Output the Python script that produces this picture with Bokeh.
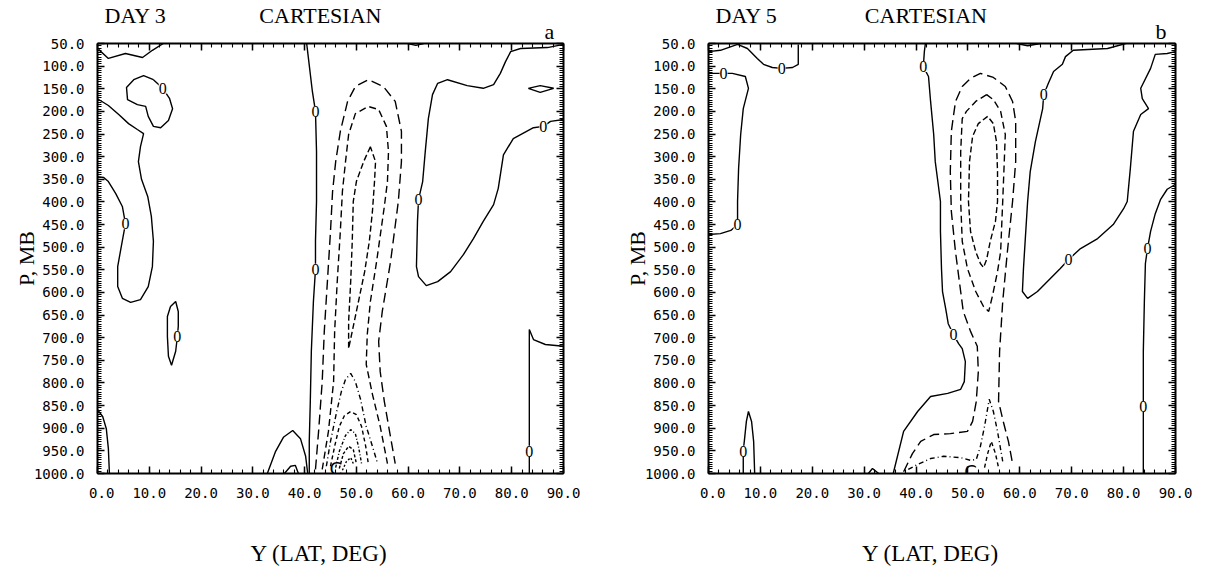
import math
from bokeh.plotting import figure
from bokeh.models import (Range1d, FixedTicker, LinearAxis, PrintfTickFormatter,
                          Label, LabelSet, ColumnDataSource, Title)
from bokeh.layouts import row
from bokeh.embed import file_html
from bokeh.resources import INLINE

# ---- axes ---------------------------------------------------------------
LAT_TICKS = [0, 10, 20, 30, 40, 50, 60, 70, 80, 90]
LAT_MINOR = list(range(0, 91, 2))
P_TICKS = [50, 100, 150, 200, 250, 300, 350, 400, 450, 500,
           550, 600, 650, 700, 750, 800, 850, 900, 950, 1000]
P_MINOR = list(range(50, 1001, 5))

# ---- DAY 3 : zero contours (lat, pressure) --------------------------------
D3_Z1_LAT = [0.2, 2.1, 5.4, 8.7, 10.6, 12.7]
D3_Z1_P = [63, 83, 72, 81, 65, 50]
D3_Z2_LAT = [10.8, 8.9, 7.0, 5.6, 5.8, 7.7, 9.3, 9.8, 10.8, 12.2, 13.7, 14.5, 13.9, 12.6, 10.8]
D3_Z2_P = [130, 121, 130, 147, 174, 185, 189, 211, 233, 236, 220, 194, 171, 149, 130]
D3_Z3_LAT = [0, 2.1, 4.1, 6.0, 7.7, 8.9, 8.3, 7.9, 8.5, 9.7, 10.4, 10.8, 10.6, 9.8, 8.3,
             6.4, 4.8, 3.9, 3.9, 4.6, 5.4, 4.8, 3.5, 2.1, 1.2, 0]
D3_Z3_P = [172, 187, 207, 227, 240, 249, 278, 311, 350, 388, 432, 487, 543, 587, 616,
           622, 613, 587, 543, 498, 448, 410, 381, 355, 346, 344]
D3_Z4_LAT = [14.1, 15.1, 15.6, 15.6, 15.4, 15.1, 14.3, 13.7, 13.5, 13.5, 14.1]
D3_Z4_P = [631, 620, 642, 675, 700, 730, 761, 741, 697, 653, 631]
D3_Z5_LAT = [0, 1.0, 1.7, 2.1, 2.3]
D3_Z5_P = [859, 874, 901, 945, 1000]
D3_Z6_LAT = [32.8, 34.4, 35.9, 37.7, 39.2, 40.2, 40.6]
D3_Z6_P = [1000, 951, 920, 905, 923, 962, 1000]
D3_Z7_LAT = [36.1, 37.3, 38.2, 38.8]
D3_Z7_P = [1000, 984, 982, 1000]
D3_Z8_LAT = [40.4, 40.7, 41.5, 42.1, 42.3, 42.3, 42.1, 42.1, 41.7, 41.3, 41.1, 40.9, 40.9]
D3_Z8_P = [50, 79, 156, 200, 289, 399, 487, 549, 620, 730, 841, 929, 1000]
D3_Z9_LAT = [90, 86.9, 81.7, 79.8, 78.8, 77.8, 76.5, 74.5, 71.4, 67.6, 65.7, 64.7, 63.9,
             63.3, 62.8, 62.0, 61.8, 61.6, 62.0, 63.5, 65.7, 68.2, 70.7, 72.6, 74.5,
             76.5, 77.4, 78.4, 80.3, 84.2, 86.1, 87.5, 90]
D3_Z9_P = [52, 59, 61, 68, 90, 116, 141, 149, 143, 130, 138, 163, 216, 289, 355, 395,
           443, 543, 565, 585, 576, 554, 516, 481, 443, 406, 370, 296, 260, 236, 233, 222, 218]
D3_Z10_LAT = [83.2, 85.5, 88.1, 85.5, 83.2]
D3_Z10_P = [149, 143, 149, 158, 149]
D3_Z11_LAT = [90, 86.5, 84.2, 83.4, 83.4, 83.4, 83.4]
D3_Z11_P = [719, 715, 704, 682, 797, 929, 1000]
D3_Z12_LAT = [59.9, 61.5, 63.0]
D3_Z12_P = [50, 54, 50]

# ---- DAY 3 : negative contours ------------------------------------------
D3_N1_LAT = [42.1, 42.7, 43.4, 43.8, 44.4, 45.0, 45.4, 46.0, 46.9, 48.3, 49.8, 52.3, 55.2,
             57.5, 58.7, 58.7, 58.1, 56.6, 55.0, 54.3, 54.6, 55.4, 56.4, 57.5]
D3_N1_P = [991, 907, 797, 686, 576, 465, 377, 311, 244, 178, 145, 130, 145,
           178, 244, 311, 399, 532, 642, 708, 775, 841, 907, 978]
D3_N2_LAT = [43.4, 44.6, 45.6, 45.8, 46.3, 46.9, 47.3, 47.9, 48.5, 49.8, 52.3, 54.3, 55.8,
             56.2, 56.0, 55.4, 53.9, 52.7, 52.1, 51.9, 53.1, 54.6, 56.0]
D3_N2_P = [991, 907, 797, 686, 576, 465, 377, 311, 251, 205, 189, 196, 233,
           289, 355, 410, 532, 620, 693, 759, 825, 896, 978]
D3_N3_LAT = [52.7, 51.4, 50.0, 49.4, 49.2, 48.9, 48.5, 48.5, 49.2, 50.4, 51.6, 52.5, 53.1,
             53.5, 53.7, 52.7]
D3_N3_P = [278, 311, 355, 399, 487, 576, 664, 724, 686, 620, 554, 487, 421, 355, 311, 278]
D3_N4_LAT = [44.2, 45.0, 46.2, 47.1, 47.9, 48.9, 49.8, 50.8, 51.9, 53.1, 54.1]
D3_N4_P = [984, 929, 863, 819, 792, 779, 797, 836, 896, 940, 978]
D3_N5_LAT = [45.0, 45.8, 46.7, 47.7, 48.9, 50.0, 51.0, 51.8, 52.3]
D3_N5_P = [984, 940, 896, 872, 863, 870, 896, 940, 978]
D3_N6_LAT = [46.0, 46.7, 47.9, 48.9, 49.8, 50.4, 51.0]
D3_N6_P = [987, 951, 916, 903, 912, 940, 978]
D3_N7_LAT = [46.7, 47.5, 48.5, 49.4, 50.0]
D3_N7_P = [989, 956, 940, 947, 978]
D3_N8_LAT = [47.3, 48.1, 48.9, 49.4]
D3_N8_P = [993, 973, 965, 978]

D3_ZERO_LABEL_LAT = [12.6, 5.4, 15.4, 42.1, 42.1, 62.0, 86.1, 83.4]
D3_ZERO_LABEL_P = [149, 448, 697, 200, 549, 395, 233, 951]
D3_MIN_LAT, D3_MIN_P = 46.0, 989

# ---- DAY 5 : zero contours ----------------------------------------------
D5_Z1_LAT = [0, 2.3, 5.6, 7.5, 9.4, 10.6, 12.3, 14.1, 16.2, 17.3, 17.3]
D5_Z1_P = [68, 65, 52, 61, 83, 96, 103, 105, 103, 96, 52]
D5_Z2_LAT = [0, 2.9, 4.6, 7.1, 7.7, 6.7, 6.2, 5.8, 5.6, 5.6, 5.6, 4.3, 2.3, 0]
D5_Z2_P = [116, 116, 116, 123, 149, 194, 251, 326, 399, 432, 450, 463, 470, 472]
D5_Z3_LAT = [6.7, 6.7, 6.7, 6.9, 7.3, 7.7, 8.3, 8.7, 8.9]
D5_Z3_P = [1000, 969, 949, 929, 885, 863, 885, 929, 1000]
D5_Z4_LAT = [30.8, 31.6, 32.8]
D5_Z4_P = [1000, 989, 1000]
D5_Z5_LAT = [35.6, 37.6, 40.3, 42.8, 46.1, 48.6, 49.3, 49.5, 48.9, 48.2, 47.2, 46.2, 45.7,
             45.1, 44.9, 44.7, 44.7, 43.7, 43.4, 42.8, 42.4, 41.4, 41.6, 41.8]
D5_Z5_P = [1000, 907, 863, 830, 823, 814, 797, 753, 724, 713, 693, 669, 635,
           598, 547, 465, 399, 311, 251, 178, 123, 101, 68, 50]
D5_Z6_LAT = [80.4, 76.9, 70.3, 68.8, 68.2, 66.5, 65.5, 64.6, 64.4, 63.0, 62.0, 61.5, 60.7,
             60.5, 61.5, 63.4, 67.8, 69.4, 71.7, 75.0, 78.0, 80.0, 80.7, 81.3, 81.9, 83.3,
             84.8, 83.6, 83.3, 85.2, 86.1, 88.4, 90]
D5_Z6_P = [50, 61, 65, 79, 96, 112, 138, 163, 194, 267, 333, 399, 547,
           598, 613, 598, 547, 527, 503, 481, 450, 415, 399, 326, 244, 207,
           194, 172, 149, 105, 74, 72, 68]
D5_Z7_LAT = [90, 88.4, 87.1, 86.1, 85.2, 84.6, 84.2, 84.0, 83.8, 83.8, 83.8, 83.8, 83.8]
D5_Z7_P = [361, 372, 395, 426, 465, 503, 536, 620, 730, 819, 852, 885, 1000]
D5_Z8_LAT = [59.4, 61.5, 64.0]
D5_Z8_P = [50, 55, 50]

# ---- DAY 5 : negative contours ------------------------------------------
D5_N1_LAT = [37.6, 39.3, 40.9, 43.4, 46.6, 49.9, 50.9, 51.6, 52.0, 51.8, 50.5, 49.1, 48.6,
             47.6, 46.8, 46.6, 46.8, 47.6, 48.9, 50.5, 52.4, 54.9, 57.2, 58.6, 59.2, 59.2,
             58.6, 57.6, 56.7, 56.1, 55.9, 56.8, 57.8, 58.6]
D5_N1_P = [996, 956, 929, 914, 912, 907, 885, 841, 775, 719, 686, 642, 598,
           510, 421, 333, 244, 178, 145, 127, 116, 125, 145, 178, 222, 311,
           399, 510, 620, 730, 841, 885, 929, 978]
D5_N2_LAT = [53.6, 51.5, 49.7, 48.9, 48.6, 48.6, 48.9, 49.9, 51.5, 53.0, 54.0, 54.7, 55.7,
             56.3, 56.7, 57.0, 57.2, 56.3, 54.9, 53.6]
D5_N2_P = [163, 178, 200, 216, 289, 399, 487, 547, 598, 631, 642, 609, 554,
           510, 399, 311, 251, 200, 174, 163]
D5_N2B_LAT = [38.5, 40.3, 42.8, 45.3, 48.6, 50.5, 51.6, 52.4, 53.2, 54.1, 54.9, 55.7, 56.7]
D5_N2B_P = [991, 980, 967, 962, 965, 971, 969, 940, 896, 836, 863, 907, 973]
D5_N3_LAT = [53.8, 52.0, 50.9, 50.3, 50.1, 50.5, 51.5, 52.4, 53.0, 53.6, 54.3, 55.3, 55.7,
             55.7, 55.5, 54.9, 53.8]
D5_N3_P = [211, 227, 255, 311, 399, 465, 510, 536, 545, 527, 487, 443, 399,
           333, 267, 227, 211]
D5_N3B_LAT = [53.2, 53.8, 54.5, 55.3, 55.9]
D5_N3B_P = [987, 956, 929, 956, 987]

D5_ZERO_LABEL_LAT = [14.1, 2.9, 5.6, 6.7, 47.2, 41.4, 64.6, 69.4, 84.6, 83.8]
D5_ZERO_LABEL_P = [105, 116, 450, 951, 693, 101, 163, 527, 503, 852]
D5_MIN_LAT, D5_MIN_P = 50.5, 996

DASHES = ["10 5", "7 4", "6 3", "5 3 1 3", "4 3", "3 2 1 2", "3 2", "2 2"]

SERIF = "Liberation Serif"
MONO = "DejaVu Sans Mono"
EM = "\u2003"
QUARTER = "\u2005"


def style_axis(ax):
    ax.axis_line_width = 2
    ax.axis_line_color = "black"
    ax.major_tick_in = 7
    ax.major_tick_out = 0
    ax.minor_tick_in = 4
    ax.minor_tick_out = 0
    ax.major_tick_line_width = 1.5
    ax.minor_tick_line_width = 1.1
    ax.major_label_text_font = MONO
    ax.major_label_text_color = "black"
    ax.major_label_text_font_size = "14px"
    ax.axis_label_text_font = SERIF
    ax.axis_label_text_font_style = "normal"
    ax.axis_label_text_color = "black"


def panel(day, letter, zero_lines, neg_lines, lab_lat, lab_p, cmin, left_border, right_border,
          fwidth, gap):
    p = figure(frame_width=fwidth, frame_height=430, output_backend="svg",
               toolbar_location=None,
               x_range=Range1d(0, 90), y_range=Range1d(1000, 50),
               min_border_left=left_border, min_border_right=right_border,
               min_border_top=42, min_border_bottom=99,
               background_fill_color="white", border_fill_color="white",
               outline_line_color=None)
    p.grid.visible = False

    # heading line, with the panel letter on a second line at the right
    p.title = Title(text="%s%sCARTESIAN\n%s%s" % (day, gap, EM * 20, letter),
                    align="left", offset=7, standoff=0,
                    text_font=SERIF, text_font_size="22px", text_font_style="normal",
                    text_color="black", text_line_height=0.62)

    xt = FixedTicker(ticks=LAT_TICKS, minor_ticks=LAT_MINOR)
    yt = FixedTicker(ticks=P_TICKS, minor_ticks=P_MINOR)
    p.xaxis.ticker = xt
    p.yaxis.ticker = yt
    p.xaxis.formatter = PrintfTickFormatter(format="%.1f")
    p.yaxis.formatter = PrintfTickFormatter(format="%.1f")
    p.xaxis.major_label_overrides = {0: "\u20070.0"}
    style_axis(p.xaxis[0])
    style_axis(p.yaxis[0])
    p.xaxis.major_label_standoff = 11
    p.yaxis.major_label_standoff = 13

    p.xaxis.axis_label = "Y (LAT, DEG)" + EM
    p.xaxis.axis_label_text_font_size = "23px"
    p.xaxis.axis_label_standoff = 37
    p.yaxis.axis_label = "P, MB"
    p.yaxis.axis_label_text_font_size = "22px"
    p.yaxis.axis_label_standoff = -8

    top = LinearAxis(ticker=xt, major_label_overrides={t: "" for t in LAT_TICKS})
    style_axis(top)
    top.major_label_standoff = 0
    p.add_layout(top, "above")
    right = LinearAxis(ticker=yt, major_label_overrides={t: "" for t in P_TICKS})
    style_axis(right)
    right.major_label_standoff = 0
    p.add_layout(right, "right")

    for lat, pr in zero_lines:
        p.line(lat, pr, line_color="black", line_width=1.4)
    for i, (lat, pr) in enumerate(neg_lines):
        p.line(lat, pr, line_color="black", line_width=1.4, line_dash=DASHES[i])

    src = ColumnDataSource(dict(x=lab_lat, y=lab_p, t=["0"] * len(lab_lat)))
    p.add_layout(LabelSet(x="x", y="y", text="t", source=src, text_align="center",
                          text_baseline="middle", text_font="DejaVu Sans",
                          text_font_size="16px", text_color="black",
                          background_fill_color="white"))
    p.add_layout(Label(x=cmin[0], y=cmin[1], text="C", text_align="center",
                       text_baseline="middle", text_font="DejaVu Sans",
                       text_font_size="18px", text_color="black"))
    return p


p3 = panel("DAY 3", "a",
           [(D3_Z1_LAT, D3_Z1_P), (D3_Z2_LAT, D3_Z2_P), (D3_Z3_LAT, D3_Z3_P),
            (D3_Z4_LAT, D3_Z4_P), (D3_Z5_LAT, D3_Z5_P), (D3_Z6_LAT, D3_Z6_P),
            (D3_Z7_LAT, D3_Z7_P), (D3_Z8_LAT, D3_Z8_P), (D3_Z9_LAT, D3_Z9_P),
            (D3_Z10_LAT, D3_Z10_P), (D3_Z11_LAT, D3_Z11_P), (D3_Z12_LAT, D3_Z12_P)],
           [(D3_N1_LAT, D3_N1_P), (D3_N2_LAT, D3_N2_P), (D3_N3_LAT, D3_N3_P),
            (D3_N4_LAT, D3_N4_P), (D3_N5_LAT, D3_N5_P), (D3_N6_LAT, D3_N6_P),
            (D3_N7_LAT, D3_N7_P), (D3_N8_LAT, D3_N8_P)],
           D3_ZERO_LABEL_LAT, D3_ZERO_LABEL_P, (D3_MIN_LAT, D3_MIN_P),
           97, 37, 466, EM * 4 + QUARTER)

p5 = panel("DAY 5", "b",
           [(D5_Z1_LAT, D5_Z1_P), (D5_Z2_LAT, D5_Z2_P), (D5_Z3_LAT, D5_Z3_P),
            (D5_Z4_LAT, D5_Z4_P), (D5_Z5_LAT, D5_Z5_P), (D5_Z6_LAT, D5_Z6_P),
            (D5_Z7_LAT, D5_Z7_P), (D5_Z8_LAT, D5_Z8_P)],
           [(D5_N1_LAT, D5_N1_P), (D5_N2_LAT, D5_N2_P), (D5_N3_LAT, D5_N3_P),
            (D5_N2B_LAT, D5_N2B_P), (D5_N3B_LAT, D5_N3B_P)],
           D5_ZERO_LABEL_LAT, D5_ZERO_LABEL_P, (D5_MIN_LAT, D5_MIN_P),
           108, 34, 467, EM * 4)

layout = row(p3, p5, spacing=0)
open("out.html", "w").write(file_html(layout, INLINE))
